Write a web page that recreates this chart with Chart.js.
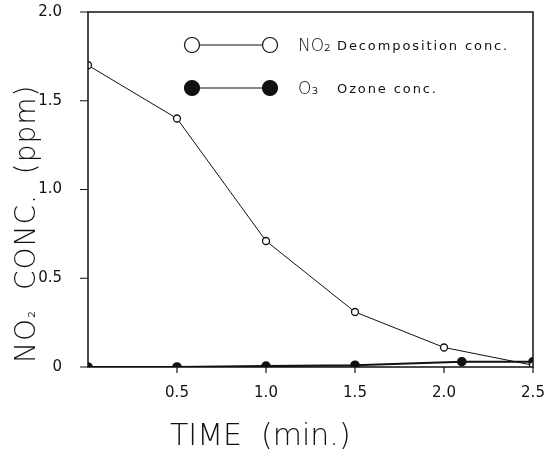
<!DOCTYPE html>
<html>
<head>
<meta charset="utf-8">
<script src="https://cdn.jsdelivr.net/npm/chart.js@4"></script>
<style>
  html, body { margin: 0; padding: 0; background: #fff; }
  #wrap { width: 556px; height: 455px; }
</style>
</head>
<body>
<div id="wrap"><canvas id="chart"></canvas></div>
<script>
// valores
const tempoNO2 = [0, 0.5, 1.0, 1.5, 2.0, 2.5];
const concNO2 = [1.70, 1.40, 0.71, 0.31, 0.11, 0.01];
const tempoO3 = [0, 0.5, 1.0, 1.5, 2.1, 2.5];
const concO3 = [0.0, 0.0, 0.005, 0.01, 0.03, 0.03];
const xTicks = [0.5, 1.0, 1.5, 2.0, 2.5];
const yTicks = [0, 0.5, 1.0, 1.5, 2.0];
const tituloX = 'TIME  (min.)';
const tituloY = ['NO', '\u2082', '  CONC.  (ppm)'];
const legenda = [
    { nome: 'NO\u2082', texto: 'Decomposition conc.', cheio: false },
    { nome: 'O\u2083', texto: 'Ozone conc.', cheio: true }
];

const pontos = (xs, ys) => xs.map((x, i) => ({ x: x, y: ys[i] }));
const cor = '#111';
const semPadding = s => { s.paddingTop = 0; s.paddingBottom = 0; s.paddingLeft = 0; s.paddingRight = 0; };

// caixa, marcas, legenda e títulos
const desenhos = {
    id: 'desenhos',
    afterDraw(chart) {
        const { ctx, chartArea: a, scales } = chart;
        ctx.save();
        ctx.strokeStyle = cor;
        ctx.fillStyle = cor;
        ctx.lineWidth = 1.5;
        ctx.strokeRect(a.left, a.top, a.right - a.left, a.bottom - a.top);

        // marcas dos eixos
        ctx.lineWidth = 1.2;
        ctx.beginPath();
        yTicks.forEach(v => {
            const y = scales.y.getPixelForValue(v);
            ctx.moveTo(a.left - 8, y);
            ctx.lineTo(a.left, y);
        });
        xTicks.forEach(v => {
            const x = scales.x.getPixelForValue(v);
            ctx.moveTo(x, a.bottom);
            ctx.lineTo(x, a.bottom + 6);
        });
        ctx.stroke();

        // legenda dentro do gráfico
        legenda.forEach((l, i) => {
            const y = a.top + 33 + i * 43;
            const x1 = a.left + 104, x2 = a.left + 182;
            ctx.lineWidth = 1.2;
            ctx.beginPath();
            ctx.moveTo(x1, y);
            ctx.lineTo(x2, y);
            ctx.stroke();
            [x1, x2].forEach(x => {
                ctx.beginPath();
                ctx.arc(x, y, 7.5, 0, Math.PI * 2);
                ctx.fillStyle = l.cheio ? cor : '#fff';
                ctx.fill();
                ctx.stroke();
            });
            ctx.fillStyle = cor;
            ctx.textBaseline = 'alphabetic';
            ctx.textAlign = 'left';
            ctx.font = '300 17px "DejaVu Sans"';
            ctx.fillText(l.nome, a.left + 210, y + 6);
            ctx.font = '13px "DejaVu Sans"';
            ctx.letterSpacing = '1.9px';
            ctx.fillText(l.texto, a.left + 249, y + 5);
            ctx.letterSpacing = '0px';
        });

        // título do eixo x
        ctx.font = '200 30px "DejaVu Sans"';
        ctx.textAlign = 'left';
        ctx.fillText(tituloX, 170, 445);

        // título do eixo y (rodado)
        ctx.translate(35, a.bottom - 4);
        ctx.rotate(-Math.PI / 2);
        ctx.letterSpacing = '1px';
        let ty = 0;
        ctx.font = '200 28px "DejaVu Sans"';
        ctx.fillText(tituloY[0], ty, 0);
        ty += ctx.measureText(tituloY[0]).width;
        ctx.font = '200 18px "DejaVu Sans"';
        ctx.fillText(tituloY[1], ty, 0);
        ty += ctx.measureText(tituloY[1]).width;
        ctx.font = '200 28px "DejaVu Sans"';
        ctx.fillText(tituloY[2], ty, 0);
        ctx.restore();
    }
};

new Chart(document.getElementById('chart'), {
    type: 'line',
    data: {
        datasets: [
            {
                label: 'NO2',
                data: pontos(tempoNO2, concNO2),
                borderColor: cor,
                borderWidth: 1,
                pointRadius: 3.5,
                pointBackgroundColor: '#fff',
                pointBorderColor: cor,
                pointBorderWidth: 1.3,
                tension: 0
            },
            {
                label: 'O3',
                data: pontos(tempoO3, concO3),
                borderColor: cor,
                borderWidth: 2,
                pointRadius: 3.8,
                pointBackgroundColor: cor,
                pointBorderColor: cor,
                tension: 0
            }
        ]
    },
    options: {
        responsive: true,
        maintainAspectRatio: false,
        animation: false,
        layout: { padding: { top: 12, right: 23, left: 0, bottom: 0 } },
        plugins: { legend: { display: false }, tooltip: { enabled: false } },
        scales: {
            x: {
                type: 'linear',
                min: 0,
                max: 2.5,
                afterBuildTicks: s => { s.ticks = xTicks.map(v => ({ value: v })); },
                afterFit: s => { s.height = 88; semPadding(s); },
                ticks: {
                    color: cor,
                    font: { family: 'DejaVu Sans', size: 15 },
                    padding: 9,
                    maxRotation: 0,
                    callback: v => v.toFixed(1)
                },
                grid: { display: false },
                border: { display: false }
            },
            y: {
                min: 0,
                max: 2,
                afterBuildTicks: s => { s.ticks = yTicks.map(v => ({ value: v })); },
                afterFit: s => { s.width = 88; semPadding(s); },
                ticks: {
                    color: cor,
                    font: { family: 'DejaVu Sans', size: 15 },
                    padding: 18,
                    callback: v => v === 0 ? '0' : v.toFixed(1)
                },
                grid: { display: false },
                border: { display: false }
            }
        }
    },
    plugins: [desenhos]
});
</script>
</body>
</html>
